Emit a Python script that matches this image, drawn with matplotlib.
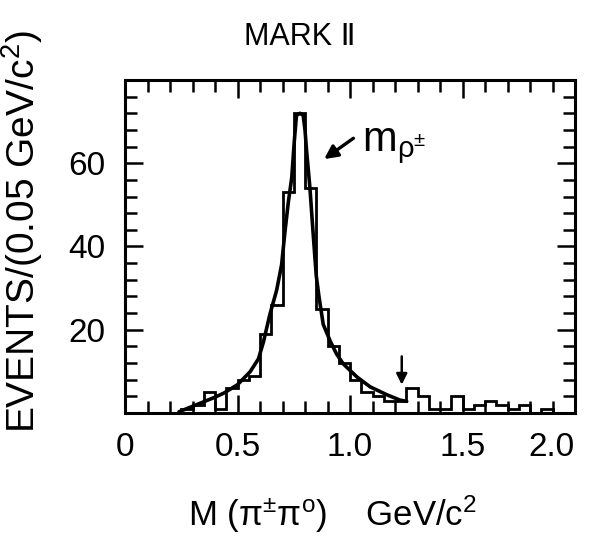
import numpy as np
import matplotlib
matplotlib.use("Agg")
import matplotlib.pyplot as plt
from matplotlib.ticker import MultipleLocator, FixedLocator

# === Data ===
bin_width = 0.05  # GeV/c^2
counts = [0, 0, 0, 0, 0, 1, 2, 5, 1, 6,
          8, 9, 19, 26, 53, 72, 54, 25, 16, 12,
          8, 5, 4, 3, 3, 6, 4, 1, 1, 4,
          1, 2, 3, 2, 1, 2, 0, 1, 0, 0]

# fitted curve, points
fit_mass = [0.24, 0.30, 0.35, 0.40, 0.44, 0.50, 0.556, 0.593, 0.615, 0.644,
            0.674, 0.696, 0.711, 0.726, 0.741, 0.752, 0.762, 0.778, 0.792,
            0.800, 0.807, 0.822, 0.835, 0.850, 0.862, 0.881, 0.911, 0.940,
            0.970, 1.030, 1.089, 1.163, 1.222, 1.252]
fit_events = [0.3, 1.6, 2.7, 3.8, 4.8, 6.8, 9.9, 13.0, 17.0, 23.7,
              29.5, 35.6, 43.6, 50.7, 56.5, 65.0, 71.5, 72.0, 71.5,
              68.0, 63.0, 54.0, 44.0, 33.0, 28.0, 21.3, 17.4, 14.2,
              11.8, 8.7, 6.3, 4.4, 3.1, 2.8]

marker_mass = 1.23  # little down arrow

xticks = [0, 0.5, 1.0, 1.5, 2.0]
xticklabels = ["0", "0.5", "1.0", "1.5", "2.0"]
yticks = [20, 40, 60]

# === Style ===
plt.rcParams['font.family'] = ['Liberation Sans', 'DejaVu Sans']
plt.rcParams['mathtext.fontset'] = 'custom'
plt.rcParams['mathtext.rm'] = 'Liberation Sans'
plt.rcParams['mathtext.it'] = 'Liberation Sans'
plt.rcParams['mathtext.bf'] = 'Liberation Sans'

fig = plt.figure(figsize=(5.95, 5.41), dpi=100)
ax = fig.add_axes([125 / 595, 1 - 413 / 541, 450 / 595, 333 / 541])

edges = np.arange(len(counts) + 1) * bin_width
ax.stairs(counts, edges, baseline=0, color='black', lw=2.0)
ax.plot(fit_mass, fit_events, color='black', lw=2.6, solid_capstyle='round')

# arrows
ax.annotate('', xy=(marker_mass, 6.8), xytext=(marker_mass, 13.6),
            arrowprops=dict(arrowstyle='-|>', color='black', lw=1.8,
                            mutation_scale=16, shrinkA=0, shrinkB=0))
ax.annotate('', xy=(0.885, 61.0), xytext=(1.015, 66.0),
            arrowprops=dict(arrowstyle='-|>', color='black', lw=2.4,
                            mutation_scale=20, shrinkA=0, shrinkB=0))
ax.text(1.055, 63.0, r"m$_{\mathrm{ρ}^{\pm}}$", fontsize=30, ha='left', va='baseline')

ax.set_xlim(0, 2.0)
ax.set_ylim(0, 80)

ax.xaxis.set_major_locator(FixedLocator(xticks))
ax.set_xticklabels(xticklabels)
ax.get_xticklabels()[-1].set_horizontalalignment('right')
ax.xaxis.set_minor_locator(MultipleLocator(0.1))
ax.yaxis.set_major_locator(FixedLocator(yticks))
ax.yaxis.set_minor_locator(MultipleLocator(4))

ax.tick_params(which='both', direction='in', top=True, right=True, width=1.8)
ax.tick_params(which='major', length=13, labelsize=24)
ax.tick_params(axis='x', which='major', pad=14)
ax.tick_params(axis='y', which='major', pad=14)
ax.tick_params(which='minor', length=8.5)
for s in ax.spines.values():
    s.set_linewidth(2.2)

fig.text(300 / 595, 1 - 37 / 541, "MARK Ⅱ", fontsize=22, ha='center', va='center')
fig.text(22 / 595, 1 - 232 / 541, r"EVENTS/(0.05 GeV/c$^2$)", fontsize=28,
         rotation=90, ha='center', va='center')
fig.text(332 / 595, 1 - 514 / 541, r"M (π$^{\pm}$π$^{o}$)    GeV/c$^2$", fontsize=25,
         ha='center', va='center')

fig.savefig("out.png", dpi=100)
